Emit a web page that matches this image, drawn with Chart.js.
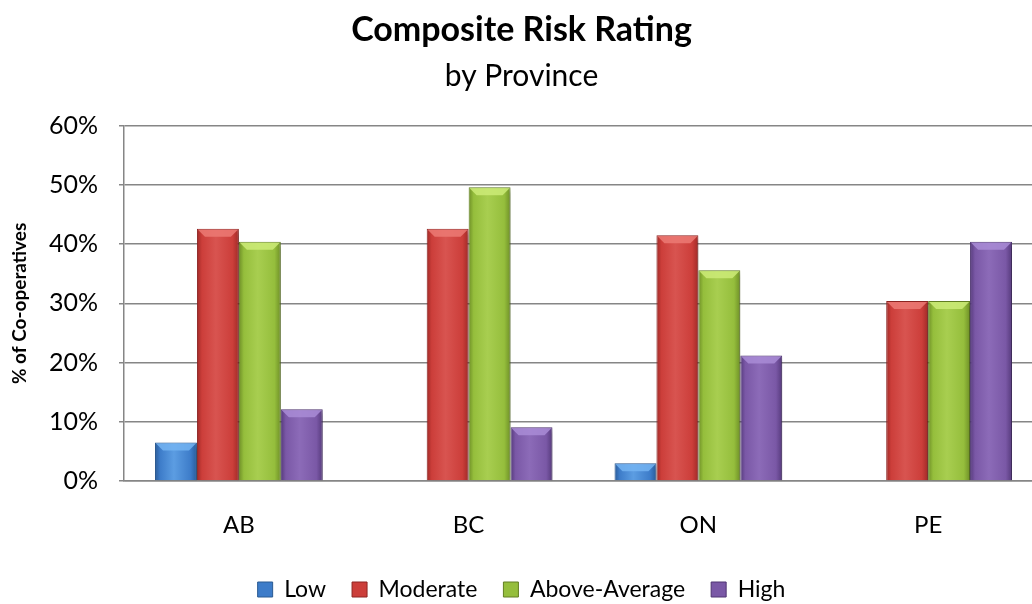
<!DOCTYPE html>
<html>
<head>
<meta charset="utf-8">
<script src="https://cdn.jsdelivr.net/npm/chart.js@4/dist/chart.umd.min.js"></script>
<style>
  html, body { margin: 0; padding: 0; background: #ffffff; overflow: hidden; }
  #wrap { width: 1032px; height: 604px; overflow: hidden; position: relative; }
  #box { width: 1043px; height: 604px; position: absolute; left: 0; top: 0; }
</style>
</head>
<body>
<div id="wrap"><div id="box"><canvas id="c"></canvas></div></div>
<script>
// ---- data ----
const provinces = ['AB', 'BC', 'ON', 'PE'];
const seriesNames = ['Low', 'Moderate', 'Above-Average', 'High'];
const low = [6.5, 0, 3.0, 0];
const moderate = [42.6, 42.6, 41.5, 30.4];
const aboveAverage = [40.4, 49.6, 35.6, 30.4];
const high = [12.1, 9.1, 21.2, 40.4];
const yTicks = [0, 10, 20, 30, 40, 50, 60];

// ---- styles ----
const palette = [
  { base: '#3D7CC9', light: '#5C9DE2', dark: '#2A5B98', top: '#74B4F2', edge: '#2B5A92' },
  { base: '#CC3E3A', light: '#D85450', dark: '#A02A27', top: '#EC7A74', edge: '#8E2522' },
  { base: '#95BE3C', light: '#A8CE50', dark: '#6E8F27', top: '#CDEB78', edge: '#627F22' },
  { base: '#7A58A6', light: '#8C6BB8', dark: '#563A7C', top: '#A98CD6', edge: '#4E3472' }
];
const FONT = 'Lato, "Open Sans", sans-serif';
const GRID = '#868686';

const seriesData = [low, moderate, aboveAverage, high];

const shade = {
  id: 'shade',
  beforeDatasetsDraw(chart) {
    const c = chart.ctx;
    chart.data.datasets.forEach((ds, i) => {
      const meta = chart.getDatasetMeta(i);
      const p = palette[i];
      meta.data.forEach(el => {
        const x0 = el.x - el.width / 2, x1 = el.x + el.width / 2;
        const g = c.createLinearGradient(x0, 0, x1, 0);
        g.addColorStop(0, p.dark);
        g.addColorStop(0.12, p.base);
        g.addColorStop(0.45, p.light);
        g.addColorStop(0.85, p.base);
        g.addColorStop(1, p.dark);
        el.options = Object.assign({}, el.options, { backgroundColor: g });
      });
    });
    c.save();
    c.shadowColor = 'rgba(0,0,0,0.28)';
    c.shadowBlur = 5;
    c.shadowOffsetX = 3;
    c.shadowOffsetY = 3;
  },
  afterDatasetsDraw(chart) {
    const c = chart.ctx;
    c.restore();
    chart.data.datasets.forEach((ds, i) => {
      const meta = chart.getDatasetMeta(i);
      const p = palette[i];
      meta.data.forEach(el => {
        const h = el.base - el.y;
        if (h < 2) return;
        const x0 = el.x - el.width / 2 + 1, x1 = el.x + el.width / 2 - 1;
        const b = Math.min(7, h / 2);
        c.save();
        c.beginPath();
        c.moveTo(x0, el.y + 1);
        c.lineTo(x1, el.y + 1);
        c.lineTo(x1 - b, el.y + 1 + b);
        c.lineTo(x0 + b, el.y + 1 + b);
        c.closePath();
        c.fillStyle = p.top;
        c.globalAlpha = 0.85;
        c.fill();
        c.restore();
      });
    });
  }
};

const datasets = seriesNames.map((name, i) => ({
  label: name,
  data: seriesData[i],
  backgroundColor: () => palette[i].base,
  borderColor: palette[i].edge,
  borderWidth: 1,
  categoryPercentage: 0.73,
  barPercentage: 1.0
}));

new Chart(document.getElementById('c'), {
  type: 'bar',
  data: { labels: provinces, datasets },
  plugins: [shade],
  options: {
    responsive: true,
    maintainAspectRatio: false,
    animation: false,
    layout: { padding: { left: 0, right: 0, top: 0, bottom: 0 } },
    plugins: {
      title: {
        display: true,
        text: 'Composite Risk Rating',
        color: '#000',
        font: { family: FONT, size: 34, weight: 'bold', lineHeight: 1.2 },
        padding: { top: 10, bottom: 0 }
      },
      subtitle: {
        display: true,
        text: 'by Province',
        color: '#000',
        font: { family: FONT, size: 30, weight: 'normal', lineHeight: 1.2 },
        padding: { top: 8, bottom: 31 }
      },
      legend: {
        position: 'bottom',
        maxHeight: 52,
        labels: {
          color: '#000',
          font: { family: FONT, size: 23 },
          boxWidth: 15,
          boxHeight: 15,
          padding: 26,
          generateLabels(chart) {
            const items = Chart.defaults.plugins.legend.labels.generateLabels(chart);
            items.forEach((it, i) => {
              it.fillStyle = palette[i].base;
              it.strokeStyle = palette[i].edge;
              it.lineWidth = 1;
            });
            return items;
          }
        }
      },
      tooltip: { enabled: false }
    },
    scales: {
      x: {
        offset: true,
        grid: { display: false, drawTicks: false },
        border: { display: true, color: GRID, width: 1.5 },
        ticks: { color: '#000', font: { family: FONT, size: 24 }, padding: 30 },
        afterFit(scale) { scale.height = 71; }
      },
      y: {
        min: 0,
        max: 60,
        afterBuildTicks(scale) { scale.ticks = yTicks.map(v => ({ value: v })); },
        grid: { color: GRID, lineWidth: 1.5, drawTicks: true, tickLength: 5, tickColor: GRID },
        border: { display: true, color: GRID, width: 1.5 },
        ticks: {
          color: '#000',
          font: { family: FONT, size: 25 },
          padding: 21,
          callback: v => v + '%'
        },
        title: {
          display: true,
          text: '% of Co-operatives',
          color: '#000',
          font: { family: FONT, size: 19, weight: 'bold' },
          padding: { top: 8, bottom: 0 }
        },
        afterFit(scale) { scale.width = 124; }
      }
    }
  }
});
</script>
</body>
</html>
